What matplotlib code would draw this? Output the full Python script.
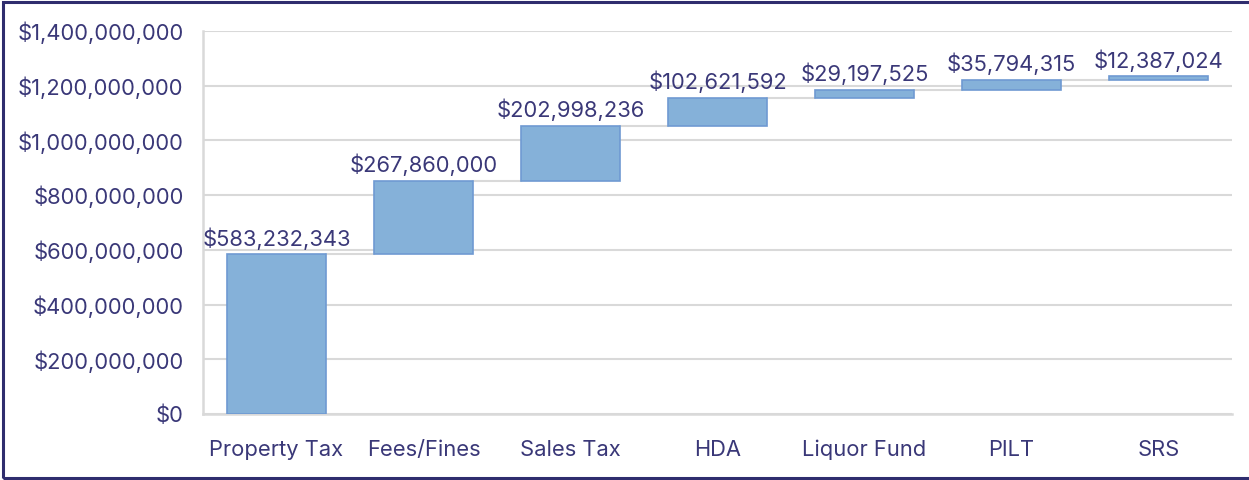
import matplotlib
matplotlib.use("Agg")
import matplotlib.pyplot as plt
from matplotlib.patches import Rectangle
from matplotlib.ticker import FuncFormatter, MultipleLocator

categories = ["Property Tax", "Fees/Fines", "Sales Tax", "HDA", "Liquor Fund", "PILT", "SRS"]
values = [583232343, 267860000, 202998236, 102621592, 29197525, 35794315, 12387024]

plt.rcParams['font.family'] = ['Inter', 'DejaVu Sans']
TEXT = '#3a3878'
BAR_FILL = '#85b1d9'
BAR_EDGE = '#6f9ad2'
GRID = '#d9d9d9'
FS = 15.8

fig = plt.figure(figsize=(12.49, 4.8), dpi=100)
ax = fig.add_axes([203/1249, 1 - 414/480, (1232 - 203)/1249, (414 - 31)/480])

bottoms = []
run = 0
for v in values:
    bottoms.append(run)
    run += v

x = list(range(len(categories)))
width = 0.667
ax.bar(x, values, bottom=bottoms, width=width, color=BAR_FILL, edgecolor=BAR_EDGE, linewidth=1.2, zorder=3)

# connectors
for i in range(len(values) - 1):
    level = bottoms[i] + values[i]
    ax.plot([i + width/2, i + 1 - width/2], [level, level], color=GRID, lw=1.5, zorder=2)

# labels
for i, v in enumerate(values):
    top = bottoms[i] + v
    ax.annotate(f"${v:,}", (i, top), xytext=(0, 3.5), textcoords='offset points',
                ha='center', va='bottom', fontsize=FS, color=TEXT, zorder=4)

ax.set_xlim(-0.5, len(categories) - 0.5)
ax.set_ylim(0, 1.4e9)
ax.yaxis.set_major_locator(MultipleLocator(2e8))
ax.yaxis.set_major_formatter(FuncFormatter(lambda v, p: f"${v:,.0f}"))
ax.set_xticks(x)
ax.set_xticklabels(categories)
ax.tick_params(axis='both', length=0, labelsize=FS, labelcolor=TEXT)
ax.tick_params(axis='y', pad=14)
ax.tick_params(axis='x', pad=30.5)
for t in ax.get_xticklabels():
    t.set_verticalalignment('baseline')
ax.grid(axis='y', color=GRID, lw=1.5, zorder=0)
ax.set_axisbelow(True)
for s in ['top', 'right']:
    ax.spines[s].set_visible(False)
for s in ['left', 'bottom']:
    ax.spines[s].set_color(GRID)
    ax.spines[s].set_linewidth(1.8)

# figure border (right side cropped)
fig.patches.append(Rectangle((3/1249, 2/480), 1.05, 1 - 3.5/480, transform=fig.transFigure,
                             fill=False, edgecolor='#2f2d6e', lw=2.2, clip_on=False))

fig.savefig('out.png', dpi=100)
